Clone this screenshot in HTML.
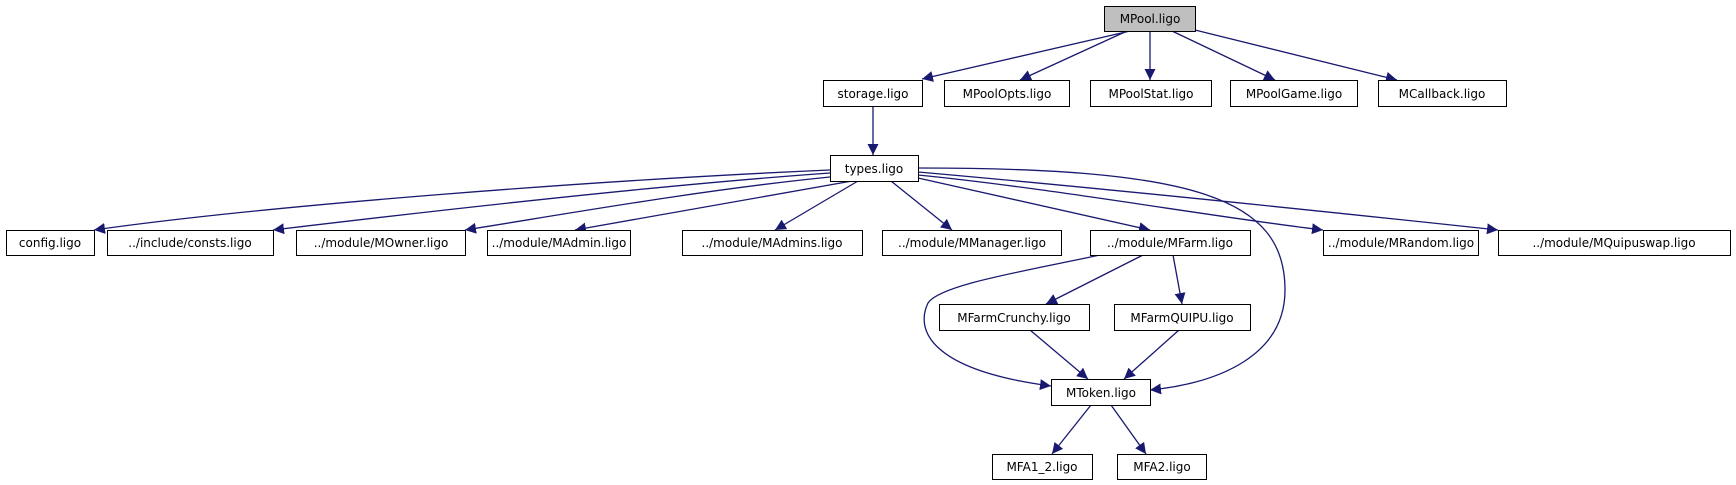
<!DOCTYPE html>
<html><head><meta charset="utf-8"><style>
html,body{margin:0;padding:0;background:#fff;width:1736px;height:485px;overflow:hidden}
svg text{font-family:"DejaVu Sans","Liberation Sans",sans-serif;font-size:12px;fill:#000}
</style></head><body>
<svg width="1736" height="485" viewBox="0 0 1736 485" xmlns="http://www.w3.org/2000/svg">
<defs><marker id="a" viewBox="0 0 10 10" refX="10" refY="5" markerWidth="11" markerHeight="11" markerUnits="userSpaceOnUse" orient="auto"><path d="M0,0 L10,5 L0,10 z" fill="#191970"/></marker></defs>
<g fill="none" stroke="#191970" stroke-width="1.3" marker-end="url(#a)">
<path d="M1130,31 L922,79"/>
<path d="M1127,31 L1020,80"/>
<path d="M1150,31 L1150,80"/>
<path d="M1172,31 L1275,80"/>
<path d="M1195,30 L1397,80"/>
<path d="M873,106 L873,155"/>
<path d="M830,170 C600,180 270,205 94,230"/>
<path d="M830,173 C660,185 440,210 273,230"/>
<path d="M830,177 C700,190 560,215 465,230"/>
<path d="M852,181 L575,230"/>
<path d="M858,181 L775,230"/>
<path d="M891,181 L952,230"/>
<path d="M918,178 L1150,230"/>
<path d="M918,175 C1050,188 1220,218 1323,230"/>
<path d="M918,172 C1100,188 1330,212 1498,230"/>
<path d="M918,168 C1195,168 1285,198 1285,290 C1285,355 1220,383 1150,390"/>
<path d="M1100,255 C1020,272 940,285 928,303 C915,330 930,370 1051,386"/>
<path d="M1143,255 L1046,304"/>
<path d="M1173,255 L1182,304"/>
<path d="M1030,330 L1088,379"/>
<path d="M1179,330 L1124,379"/>
<path d="M1091,405 L1052,454"/>
<path d="M1111,405 L1146,454"/>
</g>
<g stroke="#000" stroke-width="1" fill="#fff">
<rect x="1104.5" y="6.5" width="91" height="25" fill="#bfbfbf"/>
<rect x="823.5" y="80.5" width="99" height="26"/>
<rect x="944.5" y="80.5" width="125" height="26"/>
<rect x="1090.5" y="80.5" width="121" height="26"/>
<rect x="1230.5" y="80.5" width="127" height="26"/>
<rect x="1378.5" y="80.5" width="128" height="26"/>
<rect x="830.5" y="155.5" width="88" height="26"/>
<rect x="6.5" y="230.5" width="88" height="25"/>
<rect x="107.5" y="230.5" width="166" height="25"/>
<rect x="296.5" y="230.5" width="169" height="25"/>
<rect x="487.5" y="230.5" width="143" height="25"/>
<rect x="682.5" y="230.5" width="180" height="25"/>
<rect x="882.5" y="230.5" width="179" height="25"/>
<rect x="1090.5" y="230.5" width="160" height="25"/>
<rect x="1323.5" y="230.5" width="155" height="25"/>
<rect x="1498.5" y="230.5" width="232" height="25"/>
<rect x="939.5" y="304.5" width="150" height="26"/>
<rect x="1114.5" y="304.5" width="136" height="26"/>
<rect x="1051.5" y="379.5" width="99" height="26"/>
<rect x="992.5" y="454.5" width="100" height="25"/>
<rect x="1117.5" y="454.5" width="89" height="25"/>
</g>
<g text-anchor="middle">
<text x="1150" y="23">MPool.ligo</text>
<text x="873" y="98">storage.ligo</text>
<text x="1007" y="98">MPoolOpts.ligo</text>
<text x="1151" y="98">MPoolStat.ligo</text>
<text x="1294" y="98">MPoolGame.ligo</text>
<text x="1442" y="98">MCallback.ligo</text>
<text x="874" y="173">types.ligo</text>
<text x="50" y="247">config.ligo</text>
<text x="190" y="247">../include/consts.ligo</text>
<text x="381" y="247">../module/MOwner.ligo</text>
<text x="559" y="247">../module/MAdmin.ligo</text>
<text x="772" y="247">../module/MAdmins.ligo</text>
<text x="972" y="247">../module/MManager.ligo</text>
<text x="1170" y="247">../module/MFarm.ligo</text>
<text x="1401" y="247">../module/MRandom.ligo</text>
<text x="1614" y="247">../module/MQuipuswap.ligo</text>
<text x="1014" y="322">MFarmCrunchy.ligo</text>
<text x="1182" y="322">MFarmQUIPU.ligo</text>
<text x="1101" y="397">MToken.ligo</text>
<text x="1042" y="471">MFA1_2.ligo</text>
<text x="1162" y="471">MFA2.ligo</text>
</g>
</svg>
</body></html>
